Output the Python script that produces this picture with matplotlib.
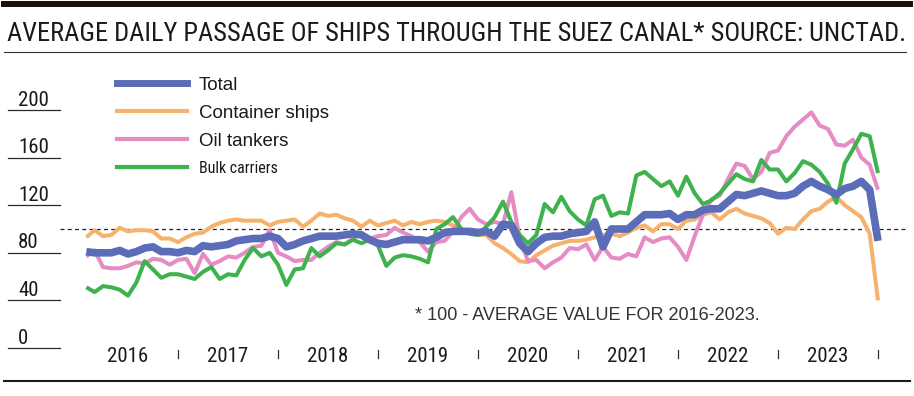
import numpy as np
import pandas as pd
import matplotlib
matplotlib.use("Agg")
import matplotlib.pyplot as plt
from matplotlib import transforms
from matplotlib.lines import Line2D
from matplotlib import font_manager as fm

# monthly values, Feb 2016 .. Jan 2024 (100 = average for 2016-2023)
months = pd.date_range("2016-02-01", periods=96, freq="MS")

total = [81, 80, 80, 80, 82, 79, 81, 84, 85, 81, 81, 80,
         82, 81, 86, 85, 86, 87, 90, 91, 92, 92, 94, 92,
         85, 87, 90, 92, 94, 94, 94, 95, 96, 95, 91, 88,
         87, 89, 91, 91, 91, 90, 93, 97, 98, 98, 98, 97,
         98, 94, 104, 103, 88, 81, 88, 93, 94, 94, 96, 97,
         98, 106, 85, 100, 100, 100, 106, 112, 112, 112, 113, 108,
         112, 112, 116, 117, 117, 123, 129, 128, 130, 132, 130, 128,
         128, 130, 136, 140, 136, 133, 129, 134, 136, 140, 133, 90]

container = [93, 99, 94, 95, 101, 98, 99, 99, 98, 92, 92, 89,
             93, 96, 97, 102, 105, 107, 108, 107, 107, 107, 103, 106,
             107, 108, 102, 107, 113, 111, 112, 109, 107, 102, 107, 103,
             105, 107, 103, 106, 104, 106, 107, 106, 103, 100, 96, 95,
             95, 88, 84, 79, 73, 72, 78, 82, 86, 88, 90, 90,
             91, 93, 95, 96, 94, 97, 101, 103, 98, 104, 104, 100,
             107, 108, 112, 114, 108, 114, 117, 113, 111, 109, 105, 96,
             101, 100, 108, 115, 117, 123, 127, 120, 115, 110, 96, 40]

oil = [77, 82, 68, 67, 67, 69, 72, 71, 75, 74, 70, 74,
       75, 63, 79, 70, 73, 77, 76, 80, 85, 86, 99, 80,
       77, 73, 74, 74, 80, 85, 89, 87, 92, 97, 92, 94,
       95, 101, 97, 94, 89, 81, 89, 90, 98, 110, 117, 108,
       104, 106, 104, 131, 92, 73, 74, 67, 72, 76, 84, 83,
       87, 74, 85, 76, 75, 79, 77, 93, 89, 92, 93, 85,
       74, 94, 112, 125, 128, 142, 155, 153, 142, 148, 164, 166,
       178, 186, 192, 198, 187, 184, 171, 170, 175, 160, 154, 133]

bulk = [51, 47, 52, 51, 49, 44, 55, 73, 66, 59, 62, 62,
        60, 58, 64, 68, 58, 62, 61, 74, 84, 77, 80, 70,
        53, 66, 67, 84, 77, 82, 88, 87, 91, 88, 91, 86,
        69, 76, 78, 77, 75, 72, 100, 104, 110, 100, 96, 95,
        102, 110, 123, 106, 95, 88, 95, 121, 114, 127, 115, 108,
        103, 125, 128, 111, 114, 113, 145, 148, 142, 136, 140, 128,
        144, 130, 121, 124, 130, 138, 146, 142, 140, 158, 150, 150,
        140, 147, 157, 154, 148, 138, 122, 155, 167, 180, 178, 147]

yticks = [0, 40, 80, 120, 160, 200]
years = list(range(2016, 2024))
title = "AVERAGE DAILY PASSAGE OF SHIPS THROUGH THE SUEZ CANAL* SOURCE: UNCTAD."
note = "* 100 - AVERAGE VALUE FOR 2016-2023."

W, H = 914, 396
names = {f.name for f in fm.fontManager.ttflist}
NARROW = next((n for n in ["Liberation Sans Narrow", "Arial Narrow", "Roboto Condensed",
                           "Archivo Narrow", "PT Sans Narrow"] if n in names), "DejaVu Sans")
REG = "Liberation Sans"

def fx(px):
    return px / W

def fy(py):
    return 1 - py / H

x = months.year + (months.month - 1) / 12

fig = plt.figure(figsize=(W / 100, H / 100), dpi=100)
ax = fig.add_axes([fx(78), fy(348), 800 / W, (348 - 110) / H])
ax.set_xlim(2016, 2024)
ax.set_ylim(0, 200)
ax.axis("off")

ty = transforms.blended_transform_factory(fig.transFigure, ax.transData)
tx = transforms.blended_transform_factory(ax.transData, fig.transFigure)

# y labels with short underlines
for v in yticks:
    ax.plot([fx(8), fx(60)], [v, v], transform=ty, color="#2a2a2a", lw=0.9, clip_on=False)
    ax.text(fx(18), v + 4.5 / 1.19, str(v), transform=ty, ha="left", va="baseline",
            fontsize=15, family=NARROW, color="#1a1a1a")

# average line
ax.plot([fx(60), fx(907)], [100, 100], transform=ty, color="#222", lw=0.9,
        ls=(0, (3.2, 2.6)), clip_on=False)

colors = {"total": "#5b6cb8", "container": "#f6b26d", "oil": "#e48cc3", "bulk": "#3db24d"}
kw = dict(solid_joinstyle="round", solid_capstyle="butt", clip_on=False)
ax.plot(x, container, color=colors["container"], lw=2.9, zorder=2, **kw)
ax.plot(x, oil, color=colors["oil"], lw=2.9, zorder=3, **kw)
ax.plot(x, bulk, color=colors["bulk"], lw=2.9, zorder=4, **kw)
ax.plot(x, total, color=colors["total"], lw=5.5, zorder=5, **kw)

# year labels and separators
for yr in years:
    ax.text(yr + 0.5, fy(362), str(yr), transform=tx, ha="center", va="baseline",
            fontsize=15, family=NARROW, color="#1a1a1a")
    ax.plot([yr + 1, yr + 1], [fy(350), fy(358)], transform=tx, color="#333", lw=0.9, clip_on=False)

# legend
legend = [("Total", colors["total"], 5, 83, 90, 13.5, REG),
          ("Container ships", colors["container"], 3, 111, 118, 13.5, REG),
          ("Oil tankers", colors["oil"], 3, 139, 146, 13.5, REG),
          ("Bulk carriers", colors["bulk"], 3, 167, 173, 11.5, NARROW)]
for label, c, lw, ly, tyb, fs, fam in legend:
    fig.add_artist(Line2D([fx(117), fx(187)], [fy(ly), fy(ly)], color=c, lw=lw))
    fig.text(fx(199), fy(tyb), label, fontsize=fs, family=fam, color="#1a1a1a", va="baseline")

fig.text(fx(415), fy(320), note, fontsize=13, family=REG, color="#333", va="baseline")

# title, fitted to the width of the rules
t = fig.text(fx(7), fy(41), title, fontsize=15, family=NARROW, color="#1a1a1a", va="baseline")
r = fig.canvas.get_renderer()
wpx = t.get_window_extent(r).width
t.set_fontsize(min(19.5, 15 * 898 / wpx))

fig.add_artist(Line2D([fx(4), fx(910)], [fy(4), fy(4)], color="#1a1208", lw=4.3))
fig.add_artist(Line2D([fx(4), fx(906)], [fy(52), fy(52)], color="#333", lw=0.8))
fig.add_artist(Line2D([fx(4), fx(910)], [fy(381), fy(381)], color="#1a1a1a", lw=1.5))

fig.savefig("out.png", dpi=100)
